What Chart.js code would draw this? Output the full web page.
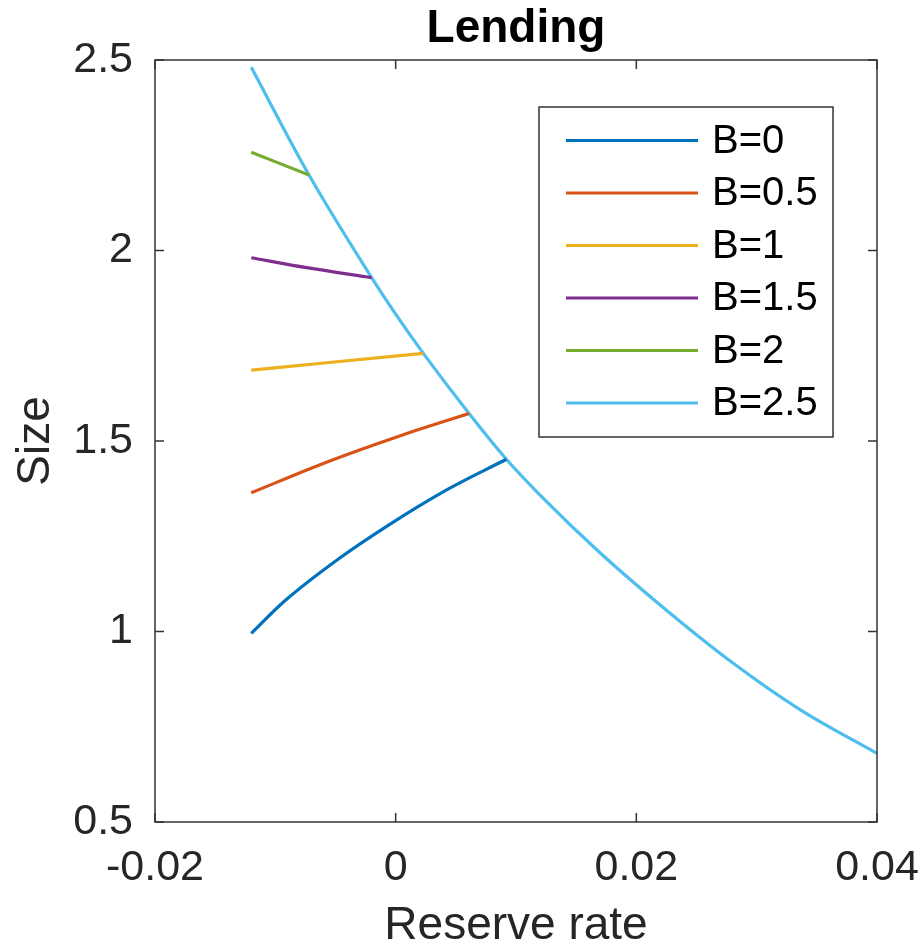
<!DOCTYPE html>
<html lang="en">
<head>
<meta charset="UTF-8">
<title>Lending</title>
<script src="https://cdn.jsdelivr.net/npm/chart.js"></script>
<style>
    html, body { margin: 0; padding: 0; background: #fff; }
    /* fixed size so the plot box lands where the figure has it */
    #chartContainer { width: 922px; height: 946px; position: relative; }
</style>
</head>
<body>
<div id="chartContainer"><canvas id="lendingChart"></canvas></div>

<script>
// values: reserve rate (x) against size (y)
const seriesLabels = ["B=0", "B=0.5", "B=1", "B=1.5", "B=2", "B=2.5"];
const seriesColors = ["#0072BD", "#D95319", "#EDB120", "#7E2F8E", "#77AC30", "#4DBEEE"];

const rateB0 = [-0.012, -0.0093, -0.0049, -0.00075, 0.0042, 0.0092];
const sizeB0 = [0.995, 1.078, 1.187, 1.276, 1.371, 1.452];

const rateB05 = [-0.012, -0.0057, 0.0004, 0.0061];
const sizeB05 = [1.364, 1.445, 1.514, 1.572];

const rateB1 = [-0.012, -0.0049, 0.0023];
const sizeB1 = [1.686, 1.708, 1.730];

const rateB15 = [-0.012, -0.0074, -0.0020];
const sizeB15 = [1.981, 1.955, 1.929];

const rateB2 = [-0.012, -0.0072];
const sizeB2 = [2.258, 2.198];

const rateB25 = [-0.012, -0.0072, -0.002, 0, 0.0023, 0.0061, 0.0092, 0.012, 0.017, 0.0225, 0.028, 0.0336, 0.040];
const sizeB25 = [2.481, 2.198, 1.929, 1.833, 1.730, 1.572, 1.452, 1.358, 1.206, 1.056, 0.918, 0.795, 0.680];

const xTickValues = [-0.02, 0, 0.02, 0.04];
const xTickLabels = ["-0.02", "0", "0.02", "0.04"];
const yTickValues = [0.5, 1, 1.5, 2, 2.5];
const yTickLabels = ["0.5", "1", "1.5", "2", "2.5"];

const rates = [rateB0, rateB05, rateB1, rateB15, rateB2, rateB25];
const sizes = [sizeB0, sizeB05, sizeB1, sizeB15, sizeB2, sizeB25];

const FONT = "'Liberation Sans', Arial, Helvetica, sans-serif";
const AXIS_COLOR = "#333333";

// matlab-style box with inward ticks on all four sides
const boxTicks = {
    id: "boxTicks",
    afterDatasetsDraw(chart) {
        const { ctx, chartArea: a, scales: { x, y } } = chart;
        const len = 9;
        ctx.save();
        ctx.strokeStyle = AXIS_COLOR;
        ctx.lineWidth = 1.5;
        ctx.beginPath();
        x.ticks.forEach(t => {
            const px = x.getPixelForValue(t.value);
            ctx.moveTo(px, a.bottom); ctx.lineTo(px, a.bottom - len);
            ctx.moveTo(px, a.top); ctx.lineTo(px, a.top + len);
        });
        y.ticks.forEach(t => {
            const py = y.getPixelForValue(t.value);
            ctx.moveTo(a.left, py); ctx.lineTo(a.left + len, py);
            ctx.moveTo(a.right, py); ctx.lineTo(a.right - len, py);
        });
        ctx.stroke();
        ctx.strokeRect(a.left, a.top, a.right - a.left, a.bottom - a.top);
        ctx.restore();
    }
};

// legend box in the upper right corner of the axes
const boxLegend = {
    id: "boxLegend",
    afterDraw(chart) {
        const { ctx, chartArea: a } = chart;
        const w = 294, h = 330;
        const left = a.right - 44 - w, top = a.top + 47;
        ctx.save();
        ctx.fillStyle = "#fff";
        ctx.fillRect(left, top, w, h);
        ctx.strokeStyle = AXIS_COLOR;
        ctx.lineWidth = 1.5;
        ctx.strokeRect(left, top, w, h);
        ctx.font = "40px " + FONT;
        ctx.textBaseline = "middle";
        ctx.fillStyle = "#000";
        chart.data.datasets.forEach((ds, i) => {
            const cy = top + 33.5 + i * 52.5;
            ctx.strokeStyle = ds.borderColor;
            ctx.lineWidth = 3.2;
            ctx.beginPath();
            ctx.moveTo(left + 27, cy);
            ctx.lineTo(left + 159, cy);
            ctx.stroke();
            ctx.fillText(ds.label, left + 173, cy + 1);
        });
        ctx.restore();
    }
};

const datasets = seriesLabels.map((label, i) => ({
    label: label,
    data: rates[i].map((r, j) => ({ x: r, y: sizes[i][j] })),
    borderColor: seriesColors[i],
    backgroundColor: seriesColors[i],
    borderWidth: 3.2,
    pointRadius: 0,
    showLine: true,
    cubicInterpolationMode: "monotone",
    fill: false
}));

const ctx = document.getElementById("lendingChart").getContext("2d");
new Chart(ctx, {
    type: "scatter",
    data: { datasets: datasets },
    options: {
        responsive: true,
        maintainAspectRatio: false,
        animation: false,
        events: [],
        layout: { padding: { left: 0, right: 45, top: 0, bottom: 0 } },
        plugins: {
            legend: { display: false },
            tooltip: { enabled: false },
            title: {
                display: true,
                fullSize: false,
                text: "Lending",
                color: "#000",
                font: { family: FONT, size: 46, weight: "bold", lineHeight: 1 },
                padding: { top: 6, bottom: 8 }
            }
        },
        scales: {
            x: {
                type: "linear",
                min: -0.02,
                max: 0.04,
                grid: { display: false, drawTicks: false },
                border: { display: false },
                afterBuildTicks: s => { s.ticks = xTickValues.map(v => ({ value: v })); },
                afterFit: s => { s.height = 124; s.paddingLeft = 0; s.paddingRight = 0; },
                ticks: {
                    color: "#262626",
                    padding: 20,
                    maxRotation: 0,
                    font: { family: FONT, size: 43 },
                    callback: (v) => xTickLabels[xTickValues.indexOf(v)]
                },
                title: {
                    display: true,
                    text: "Reserve rate",
                    color: "#262626",
                    font: { family: FONT, size: 46, lineHeight: 0.85 },
                    padding: { top: 0, bottom: 0 }
                }
            },
            y: {
                type: "linear",
                min: 0.5,
                max: 2.5,
                grid: { display: false, drawTicks: false },
                border: { display: false },
                afterBuildTicks: s => { s.ticks = yTickValues.map(v => ({ value: v })); },
                afterFit: s => { s.width = 155; s.paddingTop = 0; s.paddingBottom = 0; },
                ticks: {
                    color: "#262626",
                    padding: 22,
                    font: { family: FONT, size: 43 },
                    callback: (v) => yTickLabels[yTickValues.indexOf(v)]
                },
                title: {
                    display: true,
                    text: "Size",
                    color: "#262626",
                    font: { family: FONT, size: 46, lineHeight: 1 },
                    padding: { top: 13, bottom: 0 }
                }
            }
        }
    },
    plugins: [boxTicks, boxLegend]
});
</script>
</body>
</html>
